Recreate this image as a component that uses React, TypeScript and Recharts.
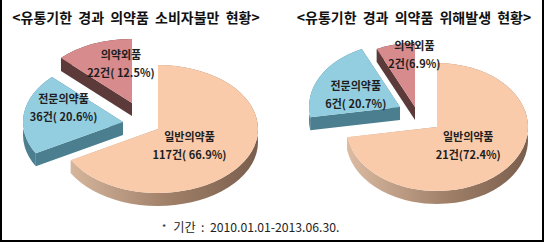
import { PieChart, Pie } from 'recharts'

// 데이터
const categories = ['일반의약품', '전문의약품', '의약외품']
const complaintCounts = [117, 36, 22]
const complaintLabels = ['117건( 66.9%)', '36건( 20.6%)', '22건( 12.5%)']
const harmCounts = [21, 6, 2]
const harmLabels = ['21건(72.4%)', '6건( 20.7%)', '2건(6.9%)']
const titles = ['<유통기한 경과 의약품 소비자불만 현황>', '<유통기한 경과 의약품 위해발생 현황>']
const footnote = '기간 : 2010.01.01-2013.06.30.'

// 색상
const FACE = ['#f9cbab', '#93cde0', '#d88b8d']
const SIDE = ['', '#4b7f8f', '#5c3a3a']

// 3D 원그래프 형태 (위치/크기)
const LEFT_GEO = {
  id: 'l',
  cx: 153,
  cy: 124,
  rx: 100,
  ry: 64,
  depth: 13,
  explode: [[0, 0], [-35, -7], [-26, -26]],
  labelF: [0.4, 0.6, 0.6],
  labelNudge: [[-3, 3], [0, -10], [12, -5]],
}
const RIGHT_GEO = {
  id: 'r',
  cx: 160,
  cy: 122,
  rx: 91,
  ry: 64,
  depth: 13,
  explode: [[0, 0], [-37, -20], [-22, -20]],
  labelF: [0.45, 0.55, 0.85],
  labelNudge: [[0, -1], [0, 3], [16, 0]],
}

type Geo = typeof LEFT_GEO
const RAD = Math.PI / 180

function pt(cx: number, cy: number, rx: number, ry: number, a: number) {
  return [cx + rx * Math.cos(a * RAD), cy - ry * Math.sin(a * RAD)]
}

function renderSlice(geo: Geo) {
  return (props: any) => {
    const { index, startAngle, endAngle, payload } = props
    const [ox, oy] = geo.explode[index]
    const cx = props.cx + ox
    const cy = props.cy + oy
    const { rx, ry, depth: d } = geo
    const [x1, y1] = pt(cx, cy, rx, ry, startAngle)
    const [x2, y2] = pt(cx, cy, rx, ry, endAngle)
    const large = Math.abs(startAngle - endAngle) > 180 ? 1 : 0
    const sweep = startAngle > endAngle ? 1 : 0
    const face = `M${cx},${cy} L${x1},${y1} A${rx},${ry} 0 ${large} ${sweep} ${x2},${y2} Z`
    const band = `M${x1},${y1} A${rx},${ry} 0 ${large} ${sweep} ${x2},${y2} L${x2},${y2 + d} A${rx},${ry} 0 ${large} ${1 - sweep} ${x1},${y1 + d} Z`
    const wall1 = `M${cx},${cy} L${x1},${y1} L${x1},${y1 + d} L${cx},${cy + d} Z`
    const wall2 = `M${cx},${cy} L${x2},${y2} L${x2},${y2 + d} L${cx},${cy + d} Z`
    const gid = `side-${geo.id}`
    const sideFill = index === 0 ? `url(#${gid})` : SIDE[index]

    const mid = (startAngle + endAngle) / 2
    const f = geo.labelF[index]
    const [nx, ny] = geo.labelNudge[index]
    const lx = cx + f * rx * Math.cos(mid * RAD) + nx
    const ly = cy - f * ry * Math.sin(mid * RAD) + ny

    return (
      <g key={`slice-${index}`}>
        {index === 0 && (
          <defs>
            <linearGradient id={gid} x1={cx - rx} x2={cx + rx} y1={0} y2={0} gradientUnits="userSpaceOnUse">
              <stop offset="0%" stopColor="#dcbca3" />
              <stop offset="55%" stopColor="#a08068" />
              <stop offset="100%" stopColor="#7a5e4d" />
            </linearGradient>
          </defs>
        )}
        <path d={wall1} fill={sideFill} />
        <path d={wall2} fill={sideFill} />
        <path d={band} fill={sideFill} />
        <path d={face} fill={FACE[index]} />
        <text
          x={lx}
          y={ly - 9}
          textAnchor="middle"
          dominantBaseline="central"
          fontSize={11}
          fontWeight={700}
          fill="#1e1e1e"
        >
          {payload.name}
        </text>
        <text
          x={lx}
          y={ly + 9}
          textAnchor="middle"
          dominantBaseline="central"
          fontSize={11}
          fontWeight={700}
          fill="#1e1e1e"
        >
          {payload.text}
        </text>
      </g>
    )
  }
}

function Pie3D({ counts, labels, geo }: { counts: number[]; labels: string[]; geo: Geo }) {
  const data = categories.map((name, i) => ({ name, value: counts[i], text: labels[i] }))
  return (
    <PieChart width={272} height={220} style={{ fontFamily: '"Noto Sans CJK KR", sans-serif' }}>
      <Pie
        data={data}
        dataKey="value"
        cx={geo.cx}
        cy={geo.cy}
        outerRadius={geo.rx}
        startAngle={90}
        endAngle={-270}
        fill="none"
        stroke="none"
        labelLine={false}
        label={renderSlice(geo)}
        isAnimationActive={false}
      />
    </PieChart>
  )
}

const titleStyle: React.CSSProperties = {
  position: 'absolute',
  top: 7,
  fontFamily: '"Noto Sans CJK KR", sans-serif',
  fontWeight: 700,
  fontSize: 14,
  lineHeight: '20px',
  color: '#111',
  textAlign: 'center',
  whiteSpace: 'nowrap',
  wordSpacing: 3,
}

export default function App() {
  return (
    <div
      style={{
        position: 'absolute',
        left: 0,
        top: 0,
        width: 544,
        height: 242,
        boxSizing: 'border-box',
        background: '#fff',
        borderLeft: '2px solid #000',
        borderRight: '2px solid #000',
        borderBottom: '2px solid #000',
        overflow: 'hidden',
      }}
    >
      <div style={{ position: 'absolute', left: -2, top: 0 }}>
        <Pie3D counts={complaintCounts} labels={complaintLabels} geo={LEFT_GEO} />
      </div>
      <div style={{ position: 'absolute', left: 270, top: 0 }}>
        <Pie3D counts={harmCounts} labels={harmLabels} geo={RIGHT_GEO} />
      </div>
      <div style={{ ...titleStyle, left: -2, width: 272 }}>{titles[0]}</div>
      <div style={{ ...titleStyle, left: 280, width: 264 }}>{titles[1]}</div>
      <div
        style={{
          position: 'absolute',
          left: 160,
          top: 218,
          fontFamily: '"Noto Sans CJK KR", sans-serif',
          fontSize: 12.2,
          lineHeight: '18px',
          color: '#222',
          whiteSpace: 'pre',
        }}
      >
        <span style={{ fontSize: 9, marginRight: 7, position: 'relative', top: -1 }}>*</span>
        {footnote.replace(' : ', '  :  ')}
      </div>
    </div>
  )
}
